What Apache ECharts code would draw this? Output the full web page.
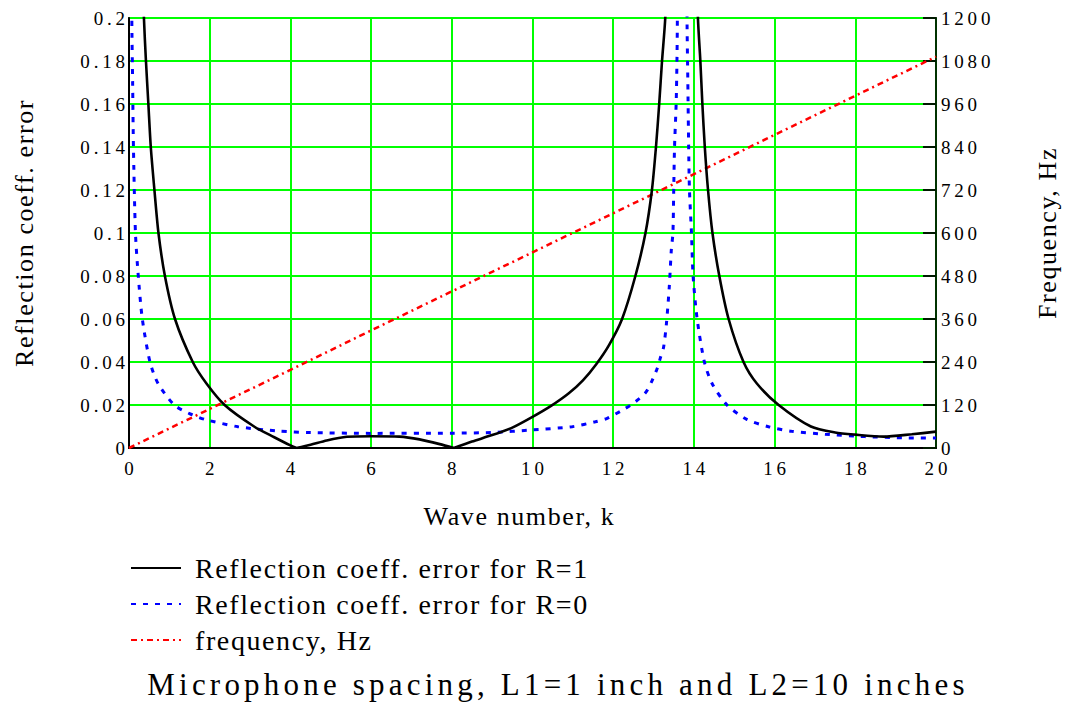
<!DOCTYPE html>
<html>
<head>
<meta charset="utf-8">
<script src="https://cdn.jsdelivr.net/npm/echarts@6/dist/echarts.min.js"></script>
<style>
  html, body { margin: 0; padding: 0; background: #fff; }
  #chart { width: 1068px; height: 717px; }
  /* letter spacing per text size group */
  #chart text[style*="26px"] { letter-spacing: 1.6px; }
  #chart text[style*="28px"] { letter-spacing: 1.6px; }
  #chart text[style*="31px"] { letter-spacing: 4.2px; }
</style>
</head>
<body>
<div id="chart"></div>
<script>
// Wave number k and reflection-coefficient error, R = 1
const kR1 = [0.15, 0.25, 0.37, 0.42, 0.48, 0.54, 0.63, 0.73, 0.89, 1.14, 1.58, 1.92, 2.37, 3.1, 3.6, 4.0, 4.15,
  4.5, 4.9, 5.4, 6.0, 6.7, 7.2, 7.7, 8.05, 8.5, 9.0, 9.5, 10.0, 10.45, 10.9, 11.25, 11.58, 11.9, 12.22, 12.55,
  12.8, 12.96, 13.06, 13.14, 13.21, 13.29, 13.4, 13.55, 13.85, 14.0, 14.1, 14.16, 14.21, 14.27, 14.35, 14.46,
  14.63, 14.86, 15.23, 15.56, 16.1, 16.9, 17.5, 18.0, 18.7, 19.4, 20.0];
const errR1 = [0.40, 0.27, 0.20, 0.18, 0.16, 0.14, 0.12, 0.10, 0.08, 0.06, 0.04, 0.03, 0.02, 0.01, 0.005, 0.0012, 0,
  0.0015, 0.0035, 0.0052, 0.0055, 0.0053, 0.0040, 0.0018, 0, 0.0030, 0.0060, 0.0095, 0.0145, 0.0195, 0.0255, 0.0315, 0.039, 0.048, 0.060, 0.080,
  0.10, 0.12, 0.14, 0.16, 0.18, 0.20, 0.26, 0.6, 0.6, 0.27, 0.20, 0.18, 0.16, 0.14, 0.12, 0.10,
  0.08, 0.06, 0.04, 0.03, 0.02, 0.01, 0.0072, 0.0062, 0.0053, 0.0064, 0.0076];

// Wave number k and reflection-coefficient error, R = 0
const kR0 = [0.02, 0.07, 0.09, 0.11, 0.16, 0.23, 0.33, 0.52, 0.72, 1.12, 1.5, 1.88, 2.7, 3.69, 4.5, 6.0, 8.0, 9.0,
  10.0, 10.98, 11.56, 11.85, 12.3, 12.55, 12.8, 12.95, 13.09, 13.17, 13.25, 13.32, 13.39, 13.44, 13.48, 13.50,
  13.52, 13.56, 13.58, 13.59, 13.64, 13.78, 13.83, 13.85, 13.87, 13.89, 13.94, 13.98, 14.08, 14.26, 14.45,
  14.82, 15.31, 15.85, 16.42, 17.25, 18.24, 19.23, 20.0];
const errR0 = [0.5, 0.20, 0.17, 0.14, 0.10, 0.08, 0.06, 0.04, 0.03, 0.02, 0.016, 0.0133, 0.0099, 0.0079, 0.0072, 0.0068, 0.0069, 0.0072,
  0.0084, 0.0099, 0.0122, 0.0138, 0.0184, 0.0215, 0.0257, 0.0308, 0.037, 0.042, 0.047, 0.058, 0.075, 0.092, 0.10, 0.12,
  0.14, 0.16, 0.18, 0.20, 0.6, 0.6, 0.20, 0.17, 0.14, 0.12, 0.10, 0.08, 0.06, 0.04, 0.03,
  0.02, 0.0133, 0.0099, 0.0078, 0.0064, 0.0053, 0.0047, 0.0046];

// Frequency in Hz against wave number
const kFreq = [0, 2, 4, 6, 8, 10, 12, 14, 16, 18, 20];
const freqHz = [0, 109, 218, 328, 437, 546, 655, 764, 874, 983, 1092];

// Axis ranges and tick steps
const K_MAX = 20, K_STEP = 2;
const ERR_MAX = 0.2, ERR_STEP = 0.02;
const HZ_MAX = 1200, HZ_STEP = 120;

const seriesNames = ['Reflection coeff. error for R=1', 'Reflection coeff. error for R=0', 'frequency, Hz'];
const xName = 'Wave number, k';
const yLeftName = 'Reflection coeff. error';
const yRightName = 'Frequency, Hz';
const caption = 'Microphone spacing, L1=1 inch and L2=10 inches';

// Pair up x/y values; a zero error is a sharp cusp, so the smoothed
// line is broken there and restarted from the same point.
function pairs(xs, ys, breakAtZero) {
  const out = [];
  xs.forEach((x, i) => {
    out.push([x, ys[i]]);
    if (breakAtZero && ys[i] === 0 && i > 0 && i < xs.length - 1) {
      out.push([x, '-']);
      out.push([x, ys[i]]);
    }
  });
  return out;
}

// Tick numbers are set loosely, with a thin space between digits
const spaced = v => String(+v.toFixed(4)).split('').join('\u2009');

const FONT = 'Liberation Serif';
const GREEN = '#00ff00';

const chart = echarts.init(document.getElementById('chart'), null, { renderer: 'svg' });

chart.setOption({
  animation: false,
  backgroundColor: '#ffffff',
  grid: { left: 129, right: 130, top: 18, bottom: 269, show: true, borderColor: '#000', borderWidth: 1.5, backgroundColor: 'transparent' },
  legend: {
    orient: 'vertical',
    left: 130,
    top: 553,
    padding: 0,
    itemWidth: 50,
    itemHeight: 14,
    itemGap: 6,
    data: seriesNames,
    itemStyle: { opacity: 0 },
    textStyle: { fontFamily: FONT, fontSize: 28, color: '#000', lineHeight: 30, padding: [0, 0, 0, 9] }
  },
  xAxis: {
    type: 'value',
    min: 0, max: K_MAX, interval: K_STEP,
    name: xName,
    nameLocation: 'middle',
    nameGap: 55,
    nameTextStyle: { fontFamily: FONT, fontSize: 26, color: '#000', padding: [0, 26, 0, 0] },
    axisLine: { show: true, onZero: false, lineStyle: { color: '#000', width: 2 } },
    axisTick: { show: false },
    axisLabel: { fontFamily: FONT, fontSize: 19, color: '#000', margin: 11, formatter: spaced },
    splitLine: { show: true, lineStyle: { color: GREEN, width: 2 } }
  },
  yAxis: [
    {
      type: 'value',
      position: 'left',
      min: 0, max: ERR_MAX, interval: ERR_STEP,
      name: yLeftName,
      nameLocation: 'middle',
      nameGap: 92,
      nameTextStyle: { fontFamily: FONT, fontSize: 26, color: '#000' },
      axisLine: { show: true, onZero: false, lineStyle: { color: '#000', width: 2 } },
      axisTick: { show: false },
      axisLabel: { fontFamily: FONT, fontSize: 19, color: '#000', margin: 4, formatter: spaced },
      splitLine: { show: true, lineStyle: { color: GREEN, width: 2 } }
    },
    {
      type: 'value',
      position: 'right',
      min: 0, max: HZ_MAX, interval: HZ_STEP,
      name: yRightName,
      nameLocation: 'middle',
      nameGap: 98,
      nameTextStyle: { fontFamily: FONT, fontSize: 26, color: '#000' },
      axisLine: { show: true, onZero: false, lineStyle: { color: '#003300', width: 2 } },
      axisTick: { show: true, inside: true, length: 13, lineStyle: { color: '#001a00', width: 2 } },
      axisLabel: { fontFamily: FONT, fontSize: 19, color: '#000', margin: 5, formatter: spaced },
      splitLine: { show: false }
    }
  ],
  series: [
    {
      name: seriesNames[0], type: 'line', yAxisIndex: 0, symbol: 'none', clip: true, z: 4,
      smooth: 0.25,
      data: pairs(kR1, errR1, true),
      itemStyle: { color: '#000' },
      lineStyle: { color: '#000', width: 2.6 }
    },
    {
      name: seriesNames[1], type: 'line', yAxisIndex: 0, symbol: 'none', clip: true, z: 3,
      smooth: 0.25,
      data: pairs(kR0, errR0, false),
      itemStyle: { color: '#0000ff' },
      lineStyle: { color: '#0000ff', width: 3, type: [5, 7] }
    },
    {
      name: seriesNames[2], type: 'line', yAxisIndex: 1, symbol: 'none', clip: true, z: 2,
      data: pairs(kFreq, freqHz, false),
      itemStyle: { color: '#ff0000' },
      lineStyle: { color: '#ff0000', width: 2.5, type: [6, 4, 2, 4] }
    }
  ],
  graphic: [
    {
      type: 'text',
      x: 558, y: 684,
      style: {
        text: caption,
        fontFamily: FONT,
        fontSize: 31,
        fill: '#000',
        textAlign: 'center',
        textVerticalAlign: 'middle'
      }
    }
  ]
});
</script>
</body>
</html>
